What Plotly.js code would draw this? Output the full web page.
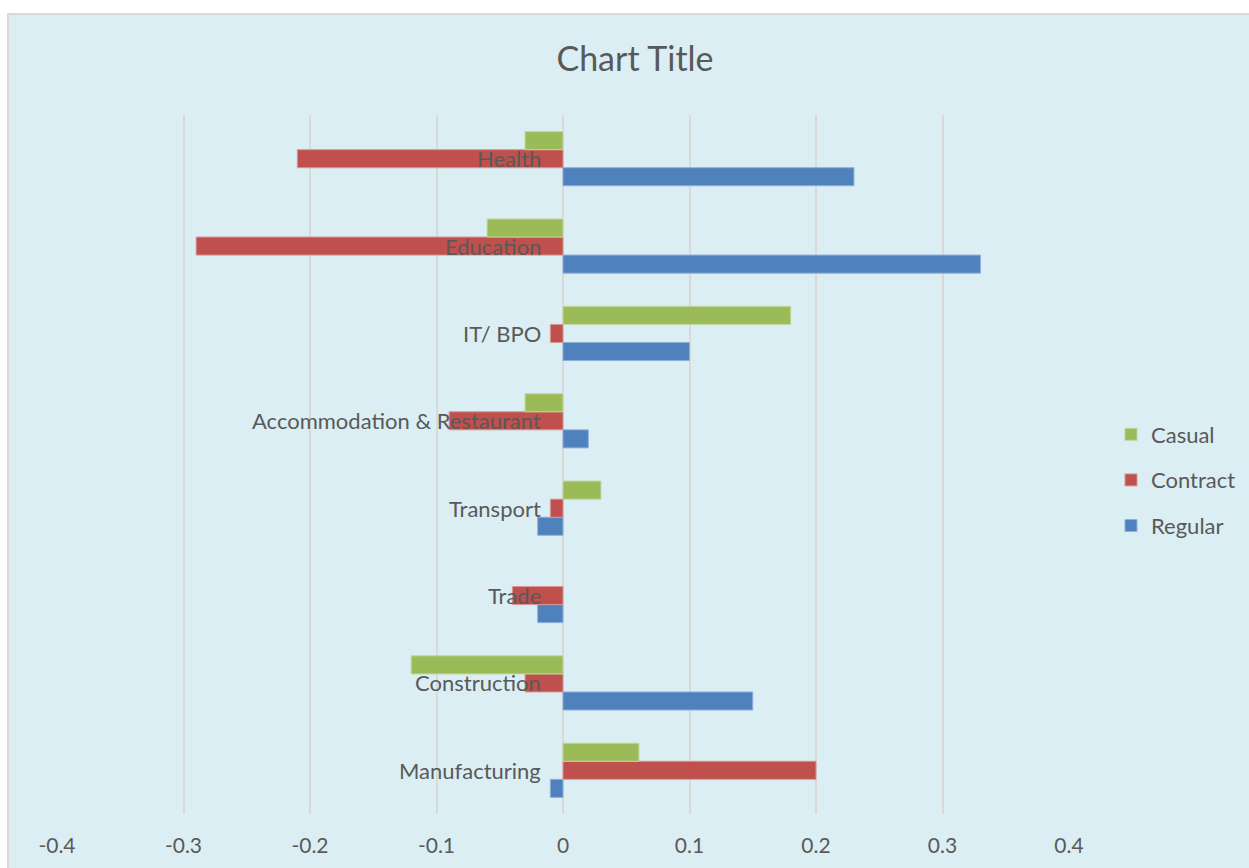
<!DOCTYPE html>
<html>
<head>
<meta charset="utf-8">
<script src="https://cdn.plot.ly/plotly-3.0.1.min.js"></script>
<style>
  html, body { margin: 0; padding: 0; background: #ffffff; width: 1249px; height: 868px; overflow: hidden; }
  #frame { position: absolute; left: 7px; top: 13px; width: 1245px; height: 858px; border: 2px solid #D9D9D9; background: #DAEEF3; }
  #chart { position: absolute; left: 0; top: 0; width: 1245px; height: 858px; }
</style>
</head>
<body>
<div id="frame"><div id="chart"></div></div>
<script>
// Categories listed bottom to top
const categories = ["Manufacturing", "Construction", "Trade", "Transport",
  "Accommodation & Restaurant", "IT/ BPO", "Education", "Health"];
const regular  = [-0.01, 0.15, -0.02, -0.02, 0.02, 0.10, 0.33, 0.23];
const contract = [0.20, -0.03, -0.04, -0.01, -0.09, -0.01, -0.29, -0.21];
const casual   = [0.06, -0.12, 0, 0.03, -0.03, 0.18, -0.06, -0.03];
const xTicks = [-0.4, -0.3, -0.2, -0.1, 0, 0.1, 0.2, 0.3, 0.4];
const xTickText = ["-0.4", "-0.3", "-0.2", "-0.1", "0", "0.1", "0.2", "0.3", "0.4"];

const FONT = "Lato, 'Open Sans', sans-serif";
const TXT = "#595959";

function bar(name, vals, color, line, rank) {
  return {
    type: "bar", orientation: "h", name: name, x: vals, y: categories,
    legendgroup: name, legendrank: rank,
    marker: { color: color, line: { color: line, width: vals.map(v => v === 0 ? 0 : 1) } },
    hoverinfo: "x+y+name"
  };
}
const traces = [
  bar("Regular", regular, "#4F81BD", "#8DB0DC", 3),
  bar("Contract", contract, "#C0504D", "#D99694", 2),
  bar("Casual", casual, "#9BBB59", "#C3D69B", 1)
];

const offX = 9, offY = 15;
const W = 1245, H = 858;
const annotations = categories.map(c => ({
  x: 0, y: c, xref: "x", yref: "y", text: c, showarrow: false,
  xanchor: "right", yanchor: "middle", xshift: -20,
  font: { family: FONT, size: 22, color: TXT }
}));

const layout = {
  width: W, height: H,
  paper_bgcolor: "#DAEEF3", plot_bgcolor: "#DAEEF3",
  margin: { l: 57 - offX, r: W - (1069 - offX), t: 115 - offY, b: H - (814 - offY), pad: 0 },
  title: { text: "Chart Title", xref: "container", yref: "container",
    x: (635 - offX) / W, xanchor: "center", y: 1 - (59 - offY) / H, yanchor: "middle",
    font: { family: FONT, size: 34, color: TXT } },
  barmode: "group", bargap: 0.38, bargroupgap: 0,
  xaxis: { range: [-0.4, 0.4], tickvals: xTicks, ticktext: xTickText,
    showgrid: true, gridcolor: "#D9D9D9", gridwidth: 2, zeroline: false,
    showline: false, ticks: "", ticklabelstandoff: 17,
    tickfont: { family: FONT, size: 21, color: TXT }, fixedrange: true },
  yaxis: { type: "category", showticklabels: false, showgrid: false, zeroline: false,
    showline: false, ticks: "", fixedrange: true },
  showlegend: true,
  legend: { x: (1111 - 57) / 1012, xanchor: "left", y: 1 - (480 - 115) / 699, yanchor: "middle",
    traceorder: "grouped", tracegroupgap: 14,
    bgcolor: "rgba(0,0,0,0)", font: { family: FONT, size: 22, color: TXT } },
  annotations: annotations,
  font: { family: FONT, color: TXT }
};

Plotly.newPlot("chart", traces, layout, { displayModeBar: false, staticPlot: true });
</script>
</body>
</html>
